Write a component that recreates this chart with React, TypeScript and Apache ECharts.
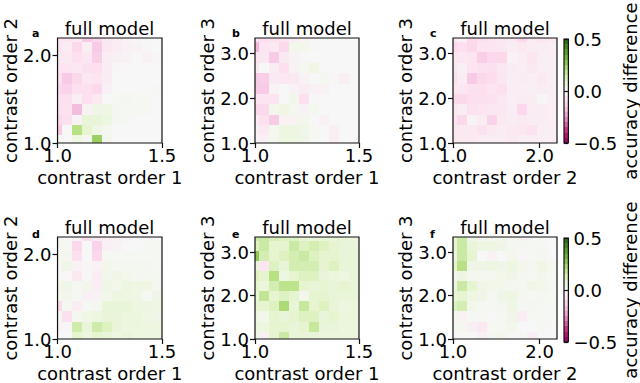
import React, { useEffect, useRef } from 'react';
import * as echarts from 'echarts';

// ---------- data ----------
const PANEL_LETTERS = ['a', 'b', 'c', 'd', 'e', 'f'];
const PANEL_TITLE = 'full model';
const X_NAMES = ['contrast order 1', 'contrast order 1', 'contrast order 2', 'contrast order 1', 'contrast order 1', 'contrast order 2'];
const Y_NAMES = ['contrast order 2', 'contrast order 3', 'contrast order 3', 'contrast order 2', 'contrast order 3', 'contrast order 3'];
const X_RANGES = [[1.0, 1.5], [1.0, 1.5], [1.0, 2.2], [1.0, 1.5], [1.0, 1.5], [1.0, 2.2]];
const Y_RANGES = [[1.0, 2.2], [1.0, 3.35], [1.0, 3.35], [1.0, 2.2], [1.0, 3.35], [1.0, 3.35]];
const X_TICKS = [[1.0, 1.5], [1.0, 1.5], [1.0, 2.0], [1.0, 1.5], [1.0, 1.5], [1.0, 2.0]];
const Y_TICKS = [[1.0, 2.0], [1.0, 2.0, 3.0], [1.0, 2.0, 3.0], [1.0, 2.0], [1.0, 2.0, 3.0], [1.0, 2.0, 3.0]];
const CBAR_TICKS = [-0.5, 0.0, 0.5];
const CBAR_RANGE = [-0.5, 0.5];
const CBAR_LEVELS = 20;
const CBAR_LABEL = 'accuracy difference';
const PIYG = ['#8e0152', '#c51b7d', '#de77ae', '#f1b6da', '#fde0ef', '#f7f7f7', '#e6f5d0', '#b8e186', '#7fbc41', '#4d9221', '#276419'];

// accuracy difference matrices, rows listed top -> bottom, columns left -> right
const panelA = [
  [-0.08, -0.08, -0.06, -0.15, -0.12, -0.06, -0.05, -0.02, -0.01, 0.0, 0.0],
  [-0.08, -0.05, -0.12, -0.04, -0.15, -0.07, -0.05, -0.03, -0.02, -0.01, 0.0],
  [-0.06, -0.06, -0.1, -0.07, -0.14, -0.05, -0.03, -0.02, 0.0, -0.02, -0.01],
  [-0.08, -0.08, -0.07, -0.1, -0.1, -0.05, -0.01, 0.0, 0.0, 0.0, 0.0],
  [-0.1, -0.15, -0.12, -0.07, -0.08, -0.05, 0.0, 0.0, 0.0, 0.0, 0.0],
  [-0.12, -0.13, -0.1, -0.1, -0.12, -0.03, 0.0, 0.0, 0.0, 0.0, 0.01],
  [-0.1, -0.1, -0.04, -0.1, -0.06, 0.0, 0.01, 0.02, 0.01, 0.01, 0.0],
  [-0.1, -0.09, -0.18, -0.02, 0.04, 0.05, 0.02, 0.01, 0.01, 0.01, 0.0],
  [-0.12, -0.1, -0.02, 0.08, 0.08, 0.06, 0.02, 0.01, 0.0, 0.0, 0.0],
  [-0.15, 0.0, 0.2, 0.1, 0.05, 0.02, 0.0, 0.0, 0.0, 0.0, 0.0],
  [0.0, 0.0, 0.05, 0.02, 0.25, 0.03, 0.0, 0.0, 0.0, 0.0, 0.0],
];
const panelB = [
  [-0.1, -0.1, -0.1, -0.08, -0.05, -0.02, 0.0, 0.0, 0.0, 0.0, 0.0],
  [-0.2, -0.08, -0.06, -0.12, 0.03, 0.03, -0.01, 0.0, 0.0, 0.0, 0.0],
  [-0.08, -0.07, -0.15, -0.06, -0.02, -0.01, 0.0, 0.0, 0.0, 0.0, 0.0],
  [-0.06, 0.0, -0.05, -0.1, -0.02, 0.02, 0.05, 0.0, 0.0, 0.0, 0.0],
  [-0.15, -0.14, -0.06, -0.07, -0.06, -0.02, 0.0, 0.02, -0.01, -0.04, 0.0],
  [-0.15, -0.15, -0.02, 0.0, -0.02, -0.05, -0.03, -0.02, 0.0, 0.0, 0.0],
  [-0.08, -0.08, -0.08, 0.0, 0.03, -0.1, -0.01, 0.0, 0.0, 0.0, 0.0],
  [-0.12, -0.12, 0.03, 0.05, 0.02, -0.02, 0.02, 0.0, 0.0, 0.0, 0.0],
  [-0.05, -0.1, -0.15, -0.02, -0.02, 0.03, 0.0, -0.03, 0.0, 0.0, 0.0],
  [-0.03, -0.06, 0.02, 0.06, 0.06, 0.04, 0.01, 0.0, -0.04, 0.0, 0.0],
  [-0.02, -0.03, 0.02, 0.06, 0.06, 0.04, 0.01, 0.0, -0.04, 0.0, 0.0],
];
const panelC = [
  [-0.08, -0.02, -0.12, -0.1, -0.08, -0.07, -0.06, -0.12, -0.05, -0.08, -0.06],
  [-0.12, -0.1, -0.12, -0.08, -0.08, -0.07, -0.05, -0.06, -0.05, -0.05, -0.04],
  [-0.08, -0.07, -0.08, -0.14, -0.12, -0.12, -0.02, -0.05, -0.08, -0.04, -0.04],
  [-0.07, -0.03, -0.08, -0.09, -0.1, -0.07, -0.05, -0.04, -0.06, -0.04, -0.04],
  [-0.1, -0.05, -0.15, -0.12, -0.11, -0.07, -0.04, -0.05, -0.04, -0.06, -0.04],
  [-0.08, -0.07, -0.09, -0.1, -0.08, -0.1, -0.04, -0.04, -0.04, -0.05, -0.04],
  [-0.12, -0.12, -0.1, -0.1, -0.09, -0.07, -0.04, -0.05, -0.05, -0.01, -0.04],
  [-0.08, -0.05, -0.09, -0.08, -0.07, -0.07, -0.05, -0.12, -0.05, -0.05, -0.04],
  [-0.08, -0.12, -0.02, -0.05, -0.13, -0.06, -0.05, -0.06, -0.05, -0.05, -0.04],
  [-0.06, -0.06, -0.06, -0.09, -0.06, -0.05, -0.06, -0.07, -0.09, -0.04, -0.04],
  [-0.06, -0.06, -0.06, -0.05, -0.05, -0.05, -0.06, -0.04, -0.05, -0.04, -0.04],
];
const panelD = [
  [0.03, 0.0, -0.02, -0.1, -0.05, -0.04, -0.03, -0.02, 0.0, 0.0, 0.0],
  [0.02, 0.01, -0.12, 0.0, -0.13, -0.03, -0.02, 0.0, 0.0, 0.01, 0.01],
  [0.02, 0.02, -0.1, 0.0, -0.12, 0.01, 0.01, 0.01, 0.01, 0.01, 0.01],
  [0.02, 0.04, -0.02, -0.01, -0.02, 0.03, 0.02, 0.02, 0.02, 0.02, 0.01],
  [0.01, 0.0, -0.06, -0.01, -0.05, 0.03, 0.04, 0.03, 0.02, 0.02, 0.02],
  [0.03, 0.04, 0.01, 0.03, -0.04, 0.04, 0.03, 0.06, 0.05, 0.05, 0.02],
  [0.02, 0.03, 0.01, -0.03, -0.02, 0.03, 0.06, 0.06, 0.05, 0.01, 0.04],
  [-0.12, 0.02, -0.05, 0.01, 0.02, 0.08, 0.08, 0.08, 0.06, 0.06, 0.05],
  [0.02, -0.1, 0.02, 0.05, 0.06, 0.08, 0.08, 0.07, 0.07, 0.05, 0.04],
  [-0.02, -0.01, 0.15, 0.08, 0.15, 0.12, 0.08, 0.06, 0.07, 0.06, 0.06],
  [0.0, 0.0, 0.1, 0.06, 0.1, 0.08, 0.06, 0.08, 0.06, 0.06, 0.06],
];
const panelE = [
  [0.16, 0.16, 0.13, 0.12, 0.12, 0.1, 0.08, 0.08, 0.08, 0.08, 0.07],
  [0.12, 0.16, 0.1, 0.1, 0.16, 0.12, 0.14, 0.12, 0.1, 0.08, 0.08],
  [0.27, 0.14, 0.1, 0.12, 0.14, 0.16, 0.12, 0.1, 0.1, 0.08, 0.08],
  [0.08, -0.08, 0.12, 0.08, 0.14, 0.14, 0.14, 0.1, 0.12, 0.08, 0.08],
  [0.12, 0.1, 0.2, 0.06, 0.1, 0.12, 0.12, 0.08, 0.07, 0.06, 0.08],
  [0.1, 0.07, 0.14, 0.19, 0.19, 0.1, 0.08, 0.09, 0.08, 0.1, 0.08],
  [0.08, 0.18, 0.1, 0.12, 0.1, 0.03, 0.1, 0.1, 0.08, 0.08, 0.08],
  [0.1, 0.1, 0.12, 0.22, 0.08, 0.17, 0.1, 0.12, 0.08, 0.06, 0.07],
  [0.05, 0.03, 0.1, 0.08, 0.1, 0.12, 0.12, 0.08, 0.1, 0.07, 0.07],
  [0.07, 0.06, 0.1, 0.1, 0.08, 0.1, 0.17, 0.08, 0.08, 0.07, 0.07],
  [0.05, -0.03, 0.1, 0.16, 0.08, 0.08, 0.08, 0.07, 0.07, 0.07, 0.07],
];
const panelF = [
  [0.1, 0.16, 0.04, 0.02, 0.02, 0.03, 0.02, -0.02, 0.0, 0.01, 0.0],
  [0.1, 0.16, 0.08, 0.06, 0.05, 0.04, 0.02, 0.02, 0.01, 0.01, 0.0],
  [0.06, 0.16, 0.1, 0.0, -0.02, 0.0, 0.03, -0.01, 0.01, 0.02, 0.0],
  [0.1, 0.2, 0.04, 0.04, 0.06, 0.04, 0.06, 0.03, 0.02, 0.05, 0.02],
  [0.03, 0.06, 0.02, 0.02, 0.02, 0.03, 0.04, 0.02, 0.01, 0.03, 0.01],
  [0.06, 0.16, 0.1, 0.04, 0.03, 0.03, 0.02, 0.02, 0.04, 0.03, 0.02],
  [0.08, 0.1, 0.05, 0.04, 0.01, 0.04, 0.06, 0.02, 0.01, 0.02, 0.01],
  [0.12, 0.14, 0.03, 0.01, 0.01, 0.02, 0.05, 0.01, 0.02, 0.01, 0.01],
  [0.02, -0.02, 0.01, 0.01, 0.0, 0.01, 0.04, -0.05, 0.01, 0.01, 0.01],
  [0.02, 0.02, -0.04, -0.06, 0.01, 0.01, 0.03, 0.0, 0.0, 0.01, 0.0],
  [-0.02, 0.0, 0.0, -0.03, 0.02, 0.03, 0.0, 0.01, -0.04, 0.0, 0.0],
];
const MATRICES = [panelA, panelB, panelC, panelD, panelE, panelF];

// ---------- layout ----------
const FONT = 'DejaVu Sans';
const COL_LEFT = [57, 255, 453];
const COL_WIDTH = [105, 104, 104];
const ROW_TOP = [38, 237];
const PLOT_H = 105;
const CBAR_LEFT = 564;
const CBAR_W = 8;
const FRAME = '#111';
// cell grid in fractions of the plot (first column / bottom row are clipped)
const COL_START = -0.058;
const COL_STEP = 0.0962;
const ROW_START = -0.027;
const ROW_STEP = 0.0989;

const fmt = (v: number) => v.toFixed(1).replace('-', '\u2212');

function buildOption() {
  const grids: any[] = [];
  const xAxes: any[] = [];
  const yAxes: any[] = [];
  const series: any[] = [];
  const graphic: any[] = [];

  const renderCell = (params: any, api: any) => {
    const x = api.value(0);
    const y = api.value(1);
    const hw = api.value(3) / 2;
    const hh = api.value(4) / 2;
    const p1 = api.coord([x - hw, y + hh]);
    const p2 = api.coord([x + hw, y - hh]);
    const x0 = Math.round(p1[0]);
    const y0 = Math.round(p1[1]);
    const x1 = Math.round(p2[0]);
    const y1 = Math.round(p2[1]);
    const cs = params.coordSys;
    const shape = echarts.graphic.clipRectByRect(
      { x: x0, y: y0, width: x1 - x0, height: y1 - y0 },
      { x: cs.x, y: cs.y, width: cs.width, height: cs.height }
    );
    if (!shape) return null;
    return { type: 'rect', shape, style: { fill: api.visual('color') } };
  };

  const axisText = { fontSize: 18, color: '#000', fontFamily: FONT };

  MATRICES.forEach((m, i) => {
    const row = Math.floor(i / 3);
    const col = i % 3;
    const left = COL_LEFT[col];
    const width = COL_WIDTH[col];
    const top = ROW_TOP[row];
    grids.push({ left, top, width, height: PLOT_H, show: true, borderColor: FRAME, borderWidth: 1.2, backgroundColor: 'transparent' });
    const [xa, xb] = X_RANGES[i];
    const [ya, yb] = Y_RANGES[i];
    xAxes.push({
      type: 'value', gridIndex: i, min: xa, max: xb, position: 'bottom',
      name: X_NAMES[i], nameLocation: 'middle', nameGap: 25, nameTextStyle: axisText,
      axisLine: { show: false },
      axisTick: { show: true, length: 5, customValues: X_TICKS[i], lineStyle: { color: FRAME, width: 1.2 } },
      axisLabel: { ...axisText, margin: 3, customValues: X_TICKS[i], formatter: fmt },
      splitLine: { show: false },
    });
    yAxes.push({
      type: 'value', gridIndex: i, min: ya, max: yb, position: 'left',
      name: Y_NAMES[i], nameLocation: 'middle', nameRotate: 90, nameGap: 38, nameTextStyle: axisText,
      axisLine: { show: false },
      axisTick: { show: true, length: 5, customValues: Y_TICKS[i], lineStyle: { color: FRAME, width: 1.2 } },
      axisLabel: { ...axisText, margin: 6, customValues: Y_TICKS[i], formatter: fmt },
      splitLine: { show: false },
    });
    const data: number[][] = [];
    const nRows = m.length;
    m.forEach((rowVals, r) => {
      const rb = nRows - 1 - r;
      const fy = ROW_START + (rb + 0.5) * ROW_STEP;
      rowVals.forEach((v, c) => {
        const fx = COL_START + (c + 0.5) * COL_STEP;
        data.push([xa + fx * (xb - xa), ya + fy * (yb - ya), v, COL_STEP * (xb - xa), ROW_STEP * (yb - ya)]);
      });
    });
    series.push({
      type: 'custom', xAxisIndex: i, yAxisIndex: i, z: -1,
      encode: { x: 0, y: 1 }, data, renderItem: renderCell, silent: true,
    });
    graphic.push({
      type: 'text', x: left + width / 2, y: row === 0 ? 28.5 : 227,
      style: { text: PANEL_TITLE, fontSize: 18, fontFamily: FONT, fill: '#000', textAlign: 'center', textVerticalAlign: 'middle' },
    });
    graphic.push({
      type: 'text', x: col === 2 ? 430 : col === 1 ? 232 : 32, y: row === 0 ? 33 : 234,
      style: { text: PANEL_LETTERS[i], fontSize: 11, fontWeight: 'bold', fontFamily: FONT, fill: '#000', textAlign: 'left', textVerticalAlign: 'middle' },
    });
  });

  // colorbars
  const step = (CBAR_RANGE[1] - CBAR_RANGE[0]) / CBAR_LEVELS;
  const cbData: number[][] = [];
  for (let k = 0; k < CBAR_LEVELS; k++) {
    const v = CBAR_RANGE[0] + (k + 0.5) * step;
    cbData.push([0.5, v, v, 1, step]);
  }
  [0, 1].forEach((row) => {
    const gi = grids.length;
    grids.push({ left: CBAR_LEFT, top: ROW_TOP[row] + 1, width: CBAR_W, height: 104, show: true, borderColor: FRAME, borderWidth: 1.2, backgroundColor: 'transparent' });
    xAxes.push({ type: 'value', gridIndex: gi, min: 0, max: 1, show: false });
    yAxes.push({
      type: 'value', gridIndex: gi, min: CBAR_RANGE[0], max: CBAR_RANGE[1], position: 'right',
      name: CBAR_LABEL, nameLocation: 'middle', nameRotate: 90, nameGap: 48, nameTextStyle: axisText,
      axisLine: { show: false },
      axisTick: { show: true, length: 4, customValues: CBAR_TICKS, lineStyle: { color: FRAME, width: 1.2 } },
      axisLabel: { ...axisText, margin: 5, customValues: CBAR_TICKS, formatter: fmt },
      splitLine: { show: false },
    });
    series.push({
      type: 'custom', xAxisIndex: gi, yAxisIndex: gi, z: -1,
      encode: { x: 0, y: 1 }, data: cbData, renderItem: renderCell, silent: true,
    });
  });

  return {
    animation: false,
    backgroundColor: '#fff',
    textStyle: { fontFamily: FONT },
    grid: grids,
    xAxis: xAxes,
    yAxis: yAxes,
    visualMap: {
      type: 'continuous', show: false, min: CBAR_RANGE[0], max: CBAR_RANGE[1], dimension: 2,
      seriesIndex: series.map((_, k) => k), inRange: { color: PIYG },
    },
    series,
    graphic,
  };
}

export default function App() {
  const ref = useRef<HTMLDivElement>(null);
  useEffect(() => {
    if (!ref.current) return;
    const chart = echarts.init(ref.current, undefined, { renderer: 'svg' });
    chart.setOption(buildOption() as any);
    return () => chart.dispose();
  }, []);
  return <div ref={ref} style={{ position: 'fixed', left: 0, top: 0, width: 640, height: 383 }} />;
}
